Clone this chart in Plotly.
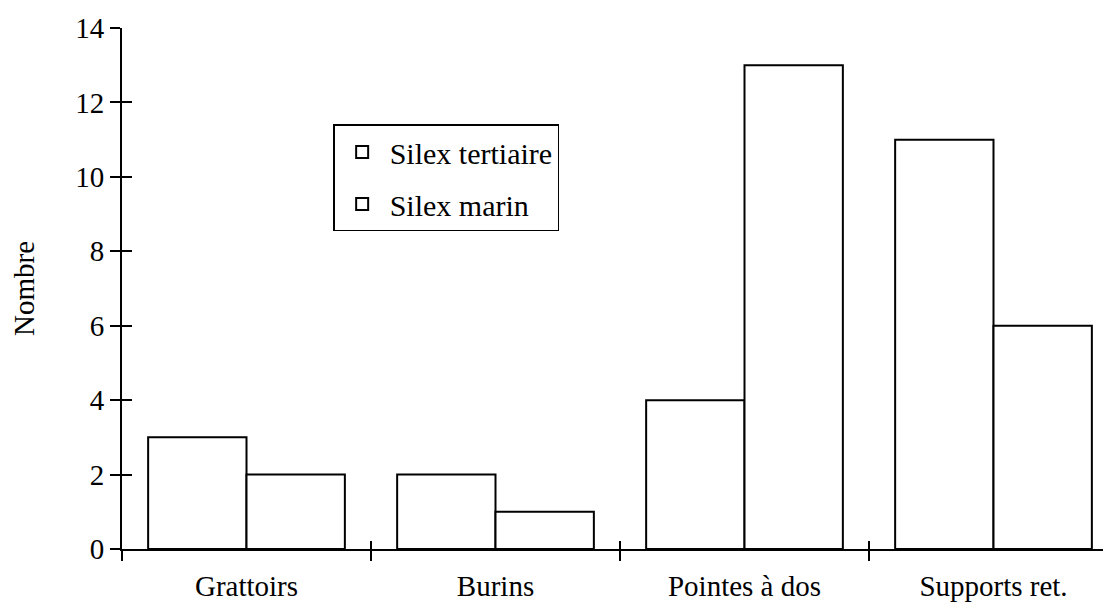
import plotly.graph_objects as go

categories = ["Grattoirs", "Burins", "Pointes à dos", "Supports ret."]
silex_tertiaire = [3, 2, 4, 11]
silex_marin = [2, 1, 13, 6]
series_names = ["Silex tertiaire", "Silex marin"]
y_ticks = [0, 2, 4, 6, 8, 10, 12, 14]

FONT = "Liberation Serif"
FS = 30

fig = go.Figure()
for name, vals in zip(series_names, [silex_tertiaire, silex_marin]):
    fig.add_trace(go.Bar(
        x=categories, y=vals, name=name, legendgroup=name,
        marker=dict(color="white", line=dict(color="black", width=2)),
    ))

# invisible helper trace so the overlay axes draw the inner half of the ticks
fig.add_trace(go.Scatter(x=categories, y=[None] * len(categories),
                         xaxis="x2", yaxis="y2", showlegend=False,
                         hoverinfo="skip", mode="markers"))

xrange = [-0.5, 3.5]
fig.update_layout(
    width=1111, height=611,
    margin=dict(l=114, r=1, t=20, b=70, autoexpand=False),
    paper_bgcolor="white", plot_bgcolor="white",
    barmode="group", bargap=0.21, bargroupgap=0,
    font=dict(family=FONT, size=FS, color="black"),
    showlegend=True,
    legend=dict(
        x=0.212, y=0.815, xanchor="left", yanchor="top",
        bgcolor="white", bordercolor="black", borderwidth=1.5,
        font=dict(family=FONT, size=FS), itemwidth=45,
        tracegroupgap=10,
    ),
    xaxis=dict(
        type="category", range=xrange, automargin=False,
        showline=True, linecolor="black", linewidth=2,
        ticks="outside", tickson="boundaries", ticklen=10, tickwidth=2,
        tickcolor="black", showgrid=False, zeroline=False,
        tickfont=dict(family=FONT, size=FS - 1),
        ticklabelstandoff=10,
    ),
    yaxis=dict(
        range=[0, 14], tickvals=y_ticks, automargin=False,
        showline=True, linecolor="black", linewidth=2,
        ticks="outside", ticklen=10, tickwidth=2, tickcolor="black",
        showgrid=False, zeroline=False,
        tickfont=dict(family=FONT, size=FS - 1),
        title=dict(text="Nombre", font=dict(family=FONT, size=FS - 1), standoff=48),
    ),
    xaxis2=dict(
        type="category", range=xrange, overlaying="x",
        categoryorder="array", categoryarray=categories,
        ticks="inside", tickson="boundaries", ticklen=8, tickwidth=2,
        tickcolor="black", showticklabels=False, showgrid=False,
        zeroline=False, showline=False, automargin=False,
    ),
    yaxis2=dict(
        range=[0, 14], tickvals=y_ticks, overlaying="y",
        ticks="inside", ticklen=10, tickwidth=2, tickcolor="black",
        showticklabels=False, showgrid=False, zeroline=False, showline=False,
        automargin=False,
    ),
)

fig.write_html("out.html")
